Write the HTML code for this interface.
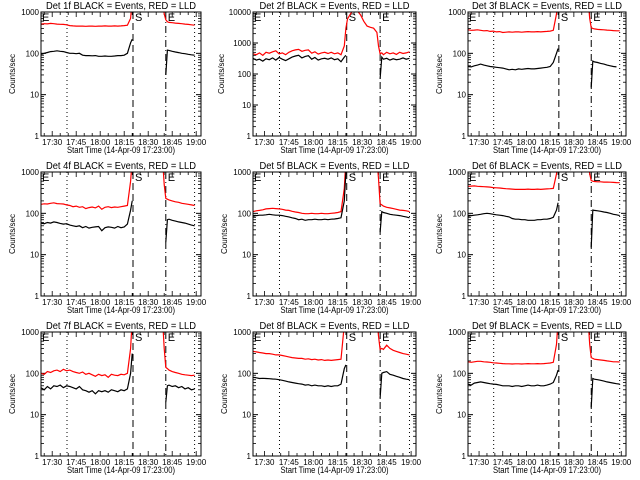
<!DOCTYPE html>
<html><head><meta charset="utf-8"><style>
html,body{margin:0;padding:0;background:#fff;}
svg{display:block;font-family:"Liberation Sans",sans-serif;}
</style></head><body>
<svg id="chart" width="640" height="480" viewBox="0 0 640 480" xmlns="http://www.w3.org/2000/svg"></svg>
<script>
// shared time axis (minutes after 17:23:00)
const times = [0,2,4,6,8,10,12,14,16,18,20,22,24,26,28,30,32,34,36,38,40,42,44,46,48,50,52,54,56,57,58,60,62,64,66,68,70,72,74,76,77,78,79,80,82,84,86,88,90,92,94,96];
const tickLabels = ["17:30","17:45","18:00","18:15","18:30","18:45","19:00"];
const tickMinutes = [7,22,37,52,67,82,97];
const detNames = ["1f","2f","3f","4f","5f","6f","7f","8f","9f"];
const N = null;
const red1 = [510,520,515,530,520,510,505,500,490,470,460,455,455,455,450,455,455,450,455,455,460,455,455,460,455,460,470,480,700,2000,N,N,N,N,N,N,N,N,N,2000,900,650,580,560,550,540,530,520,510,500,490,480];
const blk1 = [95,100,105,110,112,115,112,110,105,100,100,98,100,90,88,88,87,88,85,85,86,85,85,86,88,88,90,100,180,220,N,N,N,N,N,N,N,N,N,N,N,30,120,118,112,108,104,100,98,95,92,90];
const red2 = [450,420,480,400,500,470,520,560,450,480,420,500,560,600,620,540,580,600,470,520,440,480,500,460,500,450,480,420,800,3000,6000,9000,12000,11000,8000,5000,3500,3200,3000,2200,800,450,480,420,500,450,480,430,500,460,480,520];
const blk2 = [320,280,300,260,310,290,330,280,340,300,270,310,350,380,400,330,370,390,300,340,280,310,320,300,330,290,310,250,350,400,N,N,N,N,N,N,N,N,N,N,N,70,350,300,320,280,310,290,300,330,300,320];
const red3 = [370,360,365,370,360,350,355,340,345,330,335,320,325,330,325,330,330,325,330,335,330,330,335,330,335,340,345,360,900,2000,N,N,N,N,N,N,N,N,N,2000,700,420,400,390,380,375,370,365,360,355,350,350];
const blk3 = [48,47,50,52,55,52,50,48,47,46,45,44,42,40,41,40,42,41,42,43,42,42,43,44,45,46,48,60,100,130,N,N,N,N,N,N,N,N,N,N,N,15,65,62,60,57,55,52,50,48,47];
const red4 = [165,170,168,175,180,172,170,168,160,155,145,150,140,145,130,138,142,135,150,125,140,145,138,142,140,145,150,155,600,2000,N,N,N,N,N,N,N,N,N,2000,500,230,220,210,200,190,185,175,170,165,160,155];
const blk4 = [58,56,60,58,62,60,57,55,56,52,50,48,50,45,48,44,46,47,48,38,45,47,46,44,48,45,47,55,120,200,N,N,N,N,N,N,N,N,N,N,N,20,70,72,68,65,62,60,58,55,52,50];
const red5 = [110,115,118,122,128,130,132,130,128,125,120,118,112,108,105,100,98,98,100,98,98,100,98,98,100,102,105,110,400,2000,N,N,N,N,N,N,N,N,N,2000,700,170,160,150,140,135,130,125,120,118,115,110];
const blk5 = [85,88,90,90,92,95,92,90,90,88,85,82,78,75,70,72,68,70,70,72,70,70,72,70,72,73,75,78,200,1000,N,N,N,N,N,N,N,N,N,N,N,35,110,105,100,95,92,90,88,85,82,78];
const red6 = [450,455,460,450,445,440,435,430,420,415,410,400,395,390,385,380,380,380,380,385,380,380,385,380,385,390,395,400,900,2000,N,N,N,N,N,N,N,N,N,2000,900,620,600,590,580,580,570,570,565,560,555,550];
const blk6 = [85,88,90,92,95,98,100,98,95,92,90,88,85,82,75,72,72,70,70,68,68,68,70,70,72,72,75,80,120,180,N,N,N,N,N,N,N,N,N,N,N,15,120,118,115,112,108,105,100,95,92,88];
const red7 = [100,95,110,105,115,120,110,125,115,120,110,105,100,108,95,100,92,85,95,88,92,80,95,90,88,95,92,100,400,2000,N,N,N,N,N,N,N,N,N,2000,400,140,130,120,110,105,100,95,92,90,88,90];
const blk7 = [45,40,48,42,50,48,52,45,50,48,45,42,48,40,38,35,38,32,38,36,38,35,40,38,36,40,38,42,100,300,N,N,N,N,N,N,N,N,N,N,N,20,50,52,48,50,45,48,42,45,40,42];
const red8 = [340,330,320,310,300,300,290,280,280,270,260,250,240,235,230,230,220,225,215,220,210,215,205,210,205,210,215,220,1500,3000,N,N,N,N,N,N,N,N,N,2000,800,380,400,380,480,400,360,340,320,300,290,280];
const blk8 = [80,78,75,76,75,74,73,72,70,68,65,62,60,58,56,55,52,53,50,52,50,50,48,50,48,50,50,55,130,160,N,N,N,N,N,N,N,N,N,N,N,25,100,105,110,95,90,85,80,75,72,70];
const red9 = [190,185,190,195,195,190,188,185,180,178,175,172,170,170,168,170,170,168,170,172,170,170,172,170,172,175,178,185,500,2000,N,N,N,N,N,N,N,N,N,2000,500,240,230,220,215,210,205,200,195,190,190,188];
const blk9 = [55,52,58,60,62,60,58,56,55,54,52,50,50,50,48,50,50,48,50,52,50,50,52,50,50,52,55,60,90,120,N,N,N,N,N,N,N,N,N,N,N,15,75,72,70,68,65,62,60,58,56,55];
const redSeries = [red1,red2,red3,red4,red5,red6,red7,red8,red9];
const blkSeries = [blk1,blk2,blk3,blk4,blk5,blk6,blk7,blk8,blk9];
const yMaxExp = [3,4,3,3,3,3,3,3,3];
const markerMinutes = {dot1:16.25, dash1:57.5, dash2:78, dot2:96};

const NS = "http://www.w3.org/2000/svg";
const svg = document.getElementById("chart");
function mk(tag, attrs, parent){
  const e = document.createElementNS(NS, tag);
  for (const k in attrs) e.setAttribute(k, attrs[k]);
  (parent||svg).appendChild(e);
  return e;
}
const colX = [[41,201],[253,416],[468,626]];
const rowY = [[12,136],[172,296],[332,456]];

for (let p = 0; p < 9; p++) {
  const c = p % 3, r = Math.floor(p / 3);
  const x0 = colX[c][0], x1 = colX[c][1], y0 = rowY[r][0], y1 = rowY[r][1];
  const emax = yMaxExp[p];
  const xs = t => x0 + t * (x1 - x0) / 100;
  const ys = v => y1 - Math.log10(v) / emax * (y1 - y0);
  const g = mk("g", {});
  
  
  const clip = mk("clipPath", {id: "clip" + p}, g);
  mk("rect", {x: x0, y: y0, width: x1 - x0, height: y1 - y0}, clip);

  // title
  const title = mk("text", {x: (x0 + x1) / 2, y: y0 - 3, "text-anchor": "middle", "font-size": 10, textLength: 150, lengthAdjust: "spacingAndGlyphs"}, g);
  title.textContent = "Det " + detNames[p] + " BLACK = Events, RED = LLD";
  
  

  // y axis label
  const yl = mk("text", {x: 0, y: 0, "text-anchor": "middle", "font-size": 8, textLength: 40, lengthAdjust: "spacingAndGlyphs", transform: "translate(" + (x0 - 26 - (emax === 4 ? 3 : 0)) + "," + ((y0 + y1) / 2) + ") rotate(-90)"}, g);
  yl.textContent = "Counts/sec";
  
  

  // x axis label
  const xl = mk("text", {x: (x0 + x1) / 2, y: y1 + 17, "text-anchor": "middle", "font-size": 9, textLength: 108, lengthAdjust: "spacingAndGlyphs"}, g);
  xl.textContent = "Start Time (14-Apr-09 17:23:00)";
  
  

  // y ticks
  for (let e = 0; e <= emax; e++) {
    const y = ys(Math.pow(10, e));
    mk("line", {x1: x0, x2: x0 + 5, y1: y, y2: y, stroke: "#000", "stroke-width": 1}, g);
    mk("line", {x1: x1, x2: x1 - 5, y1: y, y2: y, stroke: "#000", "stroke-width": 1}, g);
    const lab = mk("text", {x: x0 - 2, y: y + 3, "text-anchor": "end", "font-size": 8}, g);
    lab.textContent = String(Math.pow(10, e));
    
    
    if (e < emax) for (let m = 2; m <= 9; m++) {
      const ym = ys(m * Math.pow(10, e));
      mk("line", {x1: x0, x2: x0 + 3, y1: ym, y2: ym, stroke: "#000", "stroke-width": 0.8}, g);
      mk("line", {x1: x1, x2: x1 - 3, y1: ym, y2: ym, stroke: "#000", "stroke-width": 0.8}, g);
    }
  }
  // x ticks
  for (let t = 2; t <= 100; t += 5) {
    const x = xs(t);
    const major = tickMinutes.indexOf(t) >= 0;
    const L = major ? 5 : 3;
    mk("line", {x1: x, x2: x, y1: y1, y2: y1 - L, stroke: "#000", "stroke-width": 0.8}, g);
    mk("line", {x1: x, x2: x, y1: y0, y2: y0 + L, stroke: "#000", "stroke-width": 0.8}, g);
  }
  tickLabels.forEach((s, i) => {
    const lab = mk("text", {x: xs(tickMinutes[i]), y: y1 + 9, "text-anchor": "middle", "font-size": 8}, g);
    lab.textContent = s;
    
    
  });

  // marker lines
  const vline = (t, dash, name) => {
    const l = mk("line", {x1: xs(t), x2: xs(t), y1: y0, y2: y1, stroke: "#000", "stroke-width": 1, "stroke-dasharray": dash}, g);
    
    
  };
  vline(markerMinutes.dot1, "1,3", 'dotted-marker');
  vline(markerMinutes.dot2, "1,3", 'dotted-marker');
  vline(markerMinutes.dash1, "7,4", 'start-marker-line');
  vline(markerMinutes.dash2, "7,3,1,3", 'end-marker-line');
  const letter = (x, s, name) => {
    const t = mk("text", {x: x, y: y0 + 9, "font-size": 11}, g);
    t.textContent = s;
    
    
  };
  letter(x0 + 1, "E", 'e-label');
  letter(xs(markerMinutes.dash1) + 2, "S", 's-label');
  letter(xs(markerMinutes.dash2) + 2, "E", 'e-label');

  // series
  const drawSeries = (vals, color, name) => {
    let d = "", pen = false;
    vals.forEach((v, i) => {
      if (v === null) { pen = false; return; }
      d += (pen ? "L" : "M") + xs(times[i]).toFixed(1) + "," + ys(v).toFixed(1);
      pen = true;
    });
    const path = mk("path", {d: d, fill: "none", stroke: color, "stroke-width": 1.2, "clip-path": "url(#clip" + p + ")"}, g);
    
    
  };
  drawSeries(redSeries[p], "#ff0000", 'lld-series-red');
  drawSeries(blkSeries[p], "#000000", 'events-series-black');

  // frame
  const fr = mk("rect", {x: x0, y: y0, width: x1 - x0, height: y1 - y0, fill: "none", stroke: "#000", "stroke-width": 1}, g);
  
  
}
</script>
</body></html>
